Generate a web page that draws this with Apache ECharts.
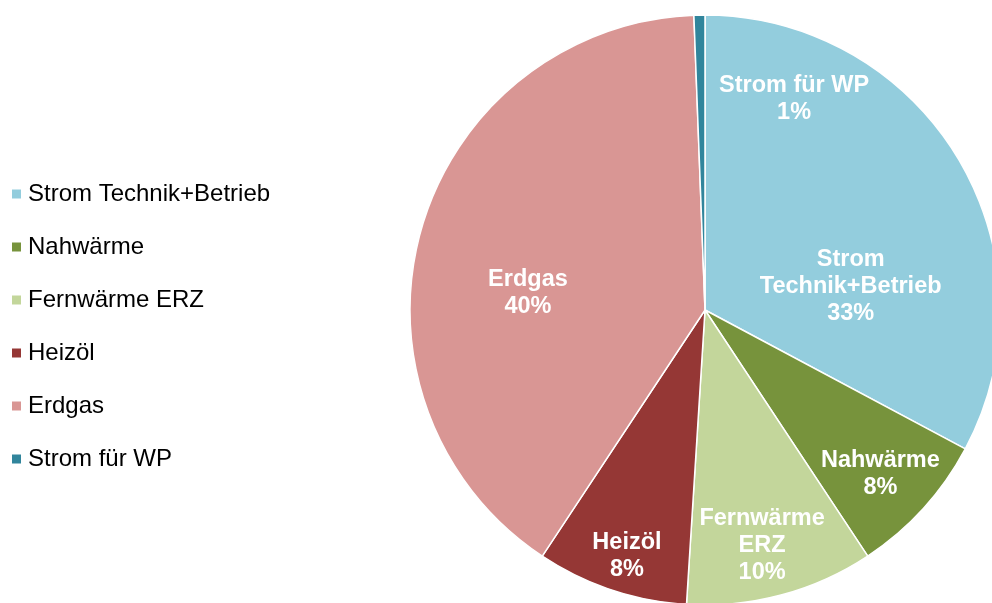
<!DOCTYPE html>
<html>
<head>
<meta charset="utf-8">
<script src="https://cdn.jsdelivr.net/npm/echarts@6/dist/echarts.min.js"></script>
<style>
html,body{margin:0;padding:0;background:#fff;}
#chart{width:992px;height:603px;}
</style>
</head>
<body>
<div id="chart"></div>
<script>
// ---- data ----
const categories = ['Strom Technik+Betrieb', 'Nahwärme', 'Fernwärme ERZ', 'Heizöl', 'Erdgas', 'Strom für WP'];
const labelNames = ['Strom\nTechnik+Betrieb', 'Nahwärme', 'Fernwärme\nERZ', 'Heizöl', 'Erdgas', 'Strom für WP'];
const values = [32.8, 7.9, 10.3, 8.3, 40.1, 0.6];
const colors = ['#93CDDD', '#77933C', '#C3D69B', '#953735', '#D99694', '#31859C'];

// ---- layout ----
const CX = 705, CY = 310, R = 295;
// label placement in polar form: [radius fraction, angle in degrees clockwise from top]
const labelPolar = [[0.50, 81], [0.813, 133], [0.823, 166.4], [0.875, 197.6], [0.603, 275.5], [0.776, 22.9]];

const chart = echarts.init(document.getElementById('chart'), null, {renderer: 'canvas'});
const FONT = '"Liberation Sans", Arial, sans-serif';

chart.setOption({
  animation: false,
  color: colors,
  legend: {
    orient: 'vertical',
    left: 12,
    top: 182,
    padding: 0,
    icon: 'rect',
    itemWidth: 9,
    itemHeight: 9,
    itemGap: 29,
    itemStyle: {borderWidth: 0},
    data: categories,
    textStyle: {fontFamily: FONT, fontSize: 24, color: '#000', lineHeight: 24, padding: [0, 0, 0, 2]}
  },
  series: [{
    type: 'pie',
    center: [CX, CY],
    radius: [0, R],
    startAngle: 90,
    clockwise: true,
    percentPrecision: 0,
    avoidLabelOverlap: false,
    itemStyle: {borderColor: '#fff', borderWidth: 1.5},
    label: {
      show: true,
      position: 'inside',
      color: '#fff',
      fontFamily: FONT,
      fontWeight: 'bold',
      fontSize: 23.5,
      lineHeight: 27,
      align: 'center',
      formatter: function (p) { return labelNames[p.dataIndex] + '\n' + p.percent + '%'; }
    },
    labelLayout: function (p) {
      const lp = labelPolar[p.dataIndex];
      const a = lp[1] * Math.PI / 180;
      return {
        x: CX + lp[0] * R * Math.sin(a),
        y: CY - lp[0] * R * Math.cos(a),
        align: 'center',
        verticalAlign: 'middle'
      };
    },
    labelLine: {show: false},
    emphasis: {disabled: true},
    data: categories.map(function (c, i) { return {name: c, value: values[i]}; })
  }]
});
</script>
</body>
</html>
